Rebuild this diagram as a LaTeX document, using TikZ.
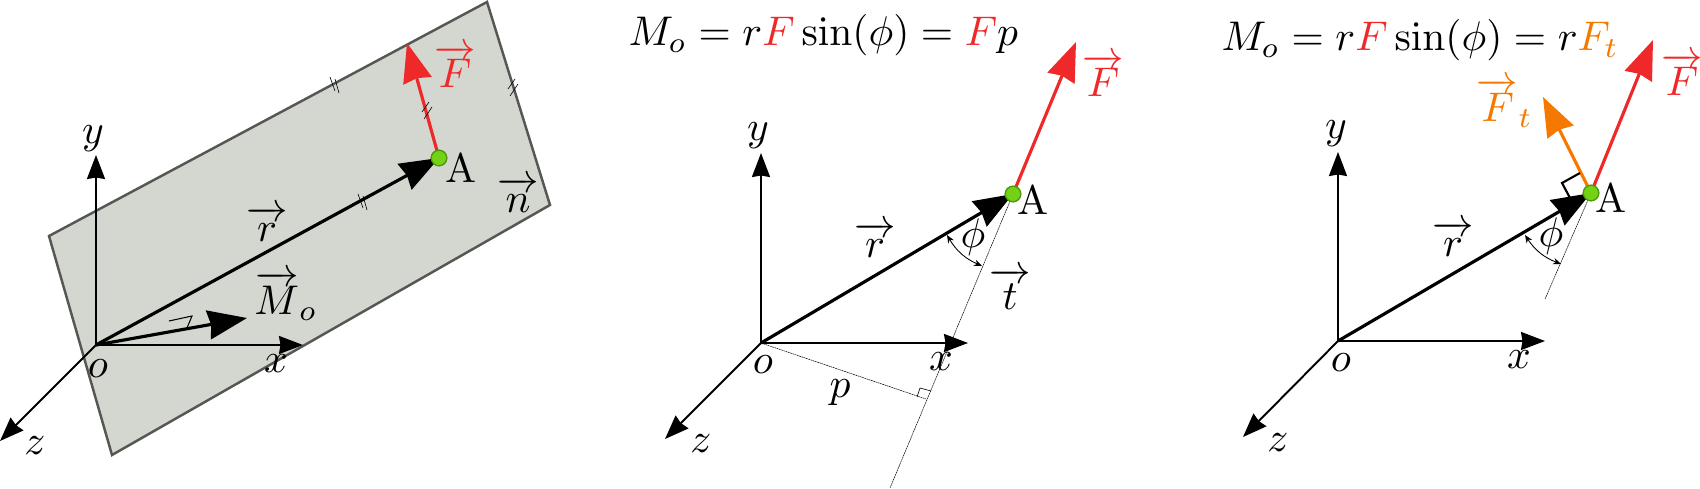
\documentclass[tikz,border=0pt]{standalone}
\usetikzlibrary{arrows.meta,calc}
\definecolor{planefill}{HTML}{D3D7CF}
\definecolor{planeedge}{HTML}{555753}
\definecolor{fred}{HTML}{EF2929}
\definecolor{forange}{HTML}{F57900}
\definecolor{ptfill}{HTML}{73D216}
\definecolor{ptedge}{HTML}{4E9A06}
\newcommand{\vecw}[1]{\overrightarrow{#1\rule{0pt}{7.55pt}}}
\newcommand{\vecp}[1]{\overrightarrow{\mkern3mu#1\mkern3mu\rule{0pt}{5.74pt}}}
\newcommand{\vect}[1]{\overrightarrow{\mkern3mu#1\mkern3mu\rule{0pt}{7.3pt}}}
\tikzset{
  lab/.style={inner sep=0pt,outer sep=0pt,scale=2.36},
  axis/.style={draw=black,line width=1.1pt,-{Stealth[length=0.48cm,width=0.36cm,inset=0.03cm]}},
  bigvec/.style={line width=1.8pt,-{Stealth[length=0.78cm,width=0.58cm,inset=0.05cm]}},
  plane/.style={draw=planeedge,fill=planefill,line width=1.4pt,line join=miter},
  pt/.style={circle,draw=ptedge,fill=ptfill,line width=0.7pt,minimum size=0.31cm,inner sep=0pt},
  guide/.style={draw=black,line width=0.3pt,dash pattern=on 1pt off 0.35pt},
  tick/.style={draw=black,line width=0.35pt},
  ang/.style={draw=black,line width=0.5pt,{Stealth[length=0.16cm,width=0.13cm]}-{Stealth[length=0.16cm,width=0.13cm]}},
}
\begin{document}
\begin{tikzpicture}[x=0.02cm,y=-0.02cm]
\useasboundingbox (0,0) rectangle (1700,489);
% ---------- panel 1
\coordinate (p1) at (49,236);\coordinate (p2) at (487,2);\coordinate (p3) at (550,205);\coordinate (p4) at (112,455);
\filldraw[plane] (p1)--(p2)--(p3)--(p4)--cycle;
\coordinate (oA) at (96,345);\coordinate (yA) at (96,155);\coordinate (xA) at (303,345);\coordinate (zA) at (0,441);
\coordinate (mA) at (247,318);\coordinate (fA) at (407,43);
\draw[axis] (oA)--(yA);\draw[axis] (oA)--(xA);\draw[axis] (oA)--(zA);
\draw[bigvec] (oA)--(mA);
\node[pt] (ptA) at (439,158) {};
\draw[bigvec] (oA)--(ptA.center);
\draw[bigvec,draw=fred,fill=fred] (ptA.center)--(fA);
\node[pt] at (439,158) {};
\foreach \x/\y in {334/85,362/202}{
  \draw[tick] (\x-4,\y-8)--(\x+1,\y+6);
  \draw[tick] (\x+1,\y-6)--(\x+5,\y+8);
}
\foreach \x/\y in {427/112,513/89}{
  \draw[tick] (\x-5,\y)--(\x+2,\y-10);
  \draw[tick] (\x-3,\y+7)--(\x+5,\y-5);
}
\coordinate (ma) at (169,321);\coordinate (mb) at (192,316);\coordinate (mc) at (187,328);
\draw[draw=black,line width=0.6pt] (ma)--(mb)--(mc);
\node[lab] (ylA) at (93,139) {$y$};
\node[lab] (xlA) at (276,364) {$x$};
\node[lab] (olA) at (98,369) {$o$};
\node[lab] (zlA) at (35,446) {$z$};
\node[lab] (rlA) at (267,224) {$\vecp{r}$};
\node[lab] (mlA) at (286,296) {$\vecw{M}_o$};
\node[lab] (AlA) at (461,168) {A};
\node[lab] (nlA) at (518,195) {$\vecp{n}$};
\node[lab,text=fred] (flA) at (455,66) {$\vecw{F}$};
% ---------- panel 2
\coordinate (oB) at (761,343);\coordinate (yB) at (761,153);\coordinate (xB) at (968,343);\coordinate (zB) at (665,439);
\coordinate (fB) at (1076,42);\coordinate (tB) at (890,488);\coordinate (footB) at (926,399);
\node[pt] (ptB) at (1013,194) {};
\draw[guide] (ptB.center)--(tB);
\draw[guide] (oB)--(footB);
\draw[axis] (oB)--(yB);\draw[axis] (oB)--(xB);\draw[axis] (oB)--(zB);
\draw[bigvec] (oB)--(ptB.center);
\draw[bigvec,draw=fred,fill=fred] (ptB.center)--(fB);
\node[pt] at (1013,194) {};
\coordinate (rb1) at (917,397);\coordinate (rb2) at (920,388);\coordinate (rb3) at (931,391);
\draw[draw=black,line width=0.35pt] (rb1)--(rb2)--(rb3);
\coordinate (arcB1) at (947,235);\coordinate (arcB2) at (982,266);
\draw[ang] (arcB1) to[bend right=18] (arcB2);
\node[lab] (ylB) at (758,136) {$y$};
\node[lab] (xlB) at (941,362) {$x$};
\node[lab] (olB) at (763,365) {$o$};
\node[lab] (zlB) at (701,444) {$z$};
\node[lab] (plB) at (840,393) {$p$};
\node[lab] (rlB) at (875,240) {$\vecp{r}$};
\node[lab] (AlB) at (1033,200) {A};
\node[lab] (philB) at (973,237) {$\phi$};
\node[lab] (tlB) at (1010,289) {$\vect{t}$};
\node[lab,text=fred] (flB) at (1103,75) {$\vecw{F}$};
\node[lab,anchor=base west] (eqB) at (628.5,46) {$M_o=r\textcolor{fred}{F}\sin(\phi)=\textcolor{fred}{F}p$};
% ---------- panel 3
\coordinate (oC) at (1338,341);\coordinate (yC) at (1338,152);\coordinate (xC) at (1545,341);\coordinate (zC) at (1243,437);
\coordinate (fC) at (1653,40);\coordinate (ftC) at (1543,97);\coordinate (tC) at (1545,299);
\node[pt] (ptC) at (1591,193) {};
\draw[guide] (ptC.center)--(tC);
\draw[axis] (oC)--(yC);\draw[axis] (oC)--(xC);\draw[axis] (oC)--(zC);
\draw[bigvec] (oC)--(ptC.center);
\draw[bigvec,draw=fred,fill=fred] (ptC.center)--(fC);
\draw[bigvec,draw=forange,fill=forange] (ptC.center)--(ftC);
\coordinate (rc1) at (1580,173);\coordinate (rc2) at (1562,183);\coordinate (rc3) at (1570,198);
\draw[draw=black,line width=1.2pt] (rc1)--(rc2)--(rc3);
\node[pt] at (1591,193) {};
\coordinate (arcC1) at (1525,235);\coordinate (arcC2) at (1561,264);
\draw[ang] (arcC1) to[bend right=18] (arcC2);
\node[lab] (ylC) at (1336,134) {$y$};
\node[lab] (xlC) at (1519,360) {$x$};
\node[lab] (olC) at (1341,363) {$o$};
\node[lab] (zlC) at (1278,443) {$z$};
\node[lab] (rlC) at (1453,239) {$\vecp{r}$};
\node[lab] (AlC) at (1611,198) {A};
\node[lab] (philC) at (1551,236.5) {$\phi$};
\node[lab,text=fred] (flC) at (1682,74) {$\vecw{F}$};
\node[lab,text=forange] (ftlC) at (1505,103) {$\vecw{F}_t$};
\node[lab,anchor=base west] (eqC) at (1221.5,51) {$M_o=r\textcolor{fred}{F}\sin(\phi)=r\textcolor{forange}{F_t}$};
\end{tikzpicture}
\end{document}
